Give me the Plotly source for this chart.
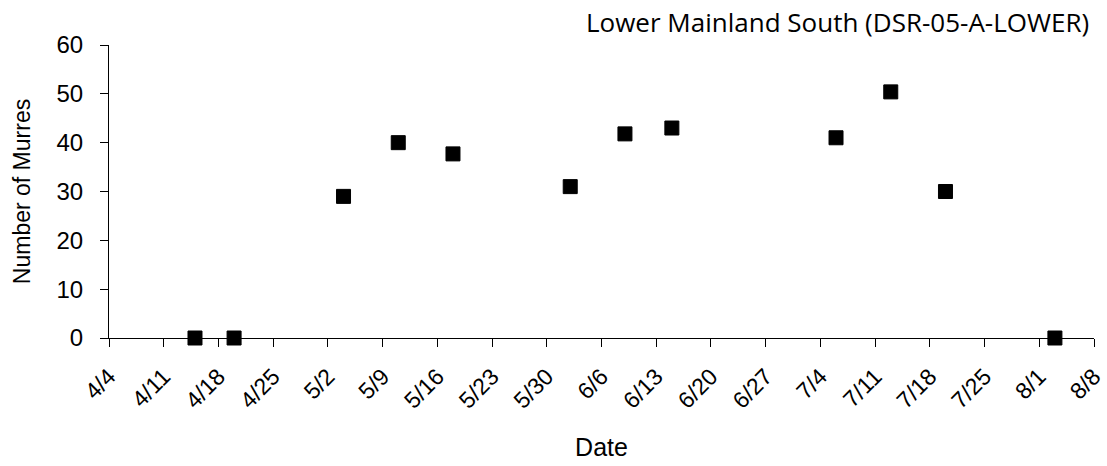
import plotly.graph_objects as go

# Survey dates and murre counts
survey_dates = [
    "2008-04-15", "2008-04-20", "2008-05-04", "2008-05-11", "2008-05-18",
    "2008-06-02", "2008-06-09", "2008-06-15", "2008-07-06", "2008-07-13",
    "2008-07-20", "2008-08-03",
]
murre_counts = [0, 0, 29, 40, 37.7, 31, 41.8, 43, 41, 50.4, 30, 0]

# Weekly date ticks
tick_dates = [
    "2008-04-04", "2008-04-11", "2008-04-18", "2008-04-25", "2008-05-02",
    "2008-05-09", "2008-05-16", "2008-05-23", "2008-05-30", "2008-06-06",
    "2008-06-13", "2008-06-20", "2008-06-27", "2008-07-04", "2008-07-11",
    "2008-07-18", "2008-07-25", "2008-08-01", "2008-08-08",
]
tick_labels = [
    "4/4", "4/11", "4/18", "4/25", "5/2", "5/9", "5/16", "5/23", "5/30",
    "6/6", "6/13", "6/20", "6/27", "7/4", "7/11", "7/18", "7/25", "8/1", "8/8",
]

title_text = "Lower Mainland South (DSR-05-A-LOWER)"
x_title = "Date"
y_title = "Number of Murres"

ARIAL = "Liberation Sans, Arial, sans-serif"

fig = go.Figure()
fig.add_trace(go.Scatter(
    x=survey_dates,
    y=murre_counts,
    mode="markers",
    marker=dict(symbol="square", size=14, color="black",
                line=dict(color="black", width=1)),
    cliponaxis=False,
    showlegend=False,
))

fig.update_layout(
    width=1107, height=466,
    margin=dict(l=109, r=13, t=45, b=128, autoexpand=False),
    paper_bgcolor="white", plot_bgcolor="white",
    xaxis=dict(
        type="date",
        range=[tick_dates[0], tick_dates[-1]],
        tickmode="array", tickvals=tick_dates, ticktext=tick_labels,
        tickangle=-45,
        ticks="outside", ticklen=8, tickcolor="black",
        ticklabelstandoff=7,
        ticklabeloverflow="allow",
        automargin=False,
        showline=True, linecolor="black", linewidth=1,
        showgrid=False, zeroline=False,
        tickfont=dict(family=ARIAL, size=23, color="black"),
        title=dict(text=x_title, font=dict(family=ARIAL, size=25, color="black"), standoff=26),
    ),
    yaxis=dict(
        range=[0, 60], dtick=10,
        ticks="outside", ticklen=8, tickcolor="black",
        ticklabelstandoff=12,
        automargin=False,
        showline=True, linecolor="black", linewidth=1,
        showgrid=False, zeroline=False,
        tickfont=dict(family=ARIAL, size=24, color="black"),
        title=dict(text=y_title, font=dict(family=ARIAL, size=23, color="black"), standoff=19),
    ),
    annotations=[dict(
        text=title_text, xref="paper", yref="paper",
        x=0.997, y=1.0785, xanchor="right", yanchor="middle",
        showarrow=False,
        font=dict(family="Open Sans, sans-serif", size=26, color="black"),
    )],
)

fig.write_html("out.html")
